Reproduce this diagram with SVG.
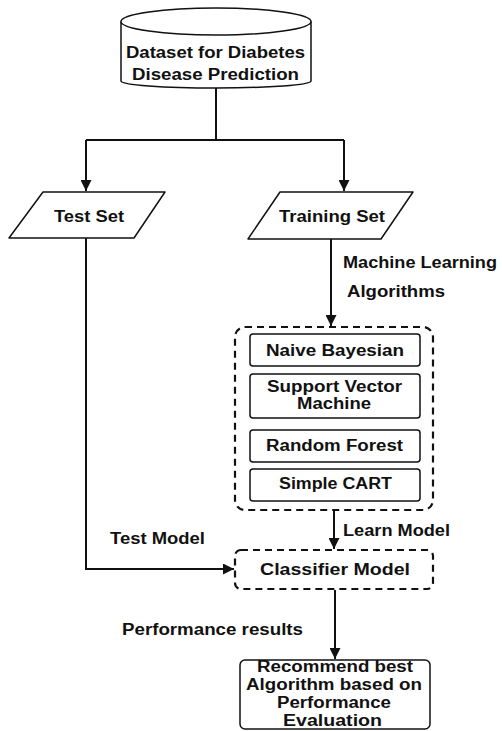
<svg xmlns="http://www.w3.org/2000/svg" width="502" height="731" viewBox="0 0 502 731">
<style>
.t{font-family:"Liberation Sans",Arial,sans-serif;font-weight:bold;font-size:16px;fill:#111}
.s{fill:#fff;stroke:#111;stroke-width:1.5}
.d{fill:#fff;stroke:#111;stroke-width:2.2;stroke-dasharray:7 5}
.c{fill:none;stroke:#111;stroke-width:2}
</style>
<defs>
<marker id="ah" viewBox="0 0 10 10" refX="10" refY="5" markerWidth="5.5" markerHeight="5.5" orient="auto" markerUnits="strokeWidth">
<path d="M0,0 L10,5 L0,10 Z" fill="#111"/>
</marker>
</defs>
<rect width="502" height="731" fill="#fff"/>
<g id="connectors">
<path class="c" d="M216,87 V140 M86,140 H344"/>
<path class="c" d="M86,140 V191" marker-end="url(#ah)"/>
<path class="c" d="M344,140 V191" marker-end="url(#ah)"/>
<path class="c" d="M331,239 V326" marker-end="url(#ah)"/>
<path class="c" d="M86,238 V569 H234" marker-end="url(#ah)"/>
<path class="c" d="M334,511 V549" marker-end="url(#ah)"/>
<path class="c" d="M335,590 V659" marker-end="url(#ah)"/>
</g>
<g id="dataset">
<path class="s" d="M121,21.5 V81 A95,7 0 0 0 311,81 V21.5"/>
<ellipse class="s" cx="216" cy="21.5" rx="95" ry="13.5"/>
<text class="t" x="126" y="58" textLength="179" lengthAdjust="spacingAndGlyphs">Dataset for Diabetes</text>
<text class="t" x="132" y="80" textLength="167" lengthAdjust="spacingAndGlyphs">Disease Prediction</text>
</g>
<g id="testset">
<path class="s" stroke-linejoin="round" d="M43,192 H165 L134,238 H9 Z"/>
<text class="t" x="54" y="222" textLength="70" lengthAdjust="spacingAndGlyphs">Test Set</text>
</g>
<g id="trainingset">
<path class="s" stroke-linejoin="round" d="M280,192 H413 L381,239 H248 Z"/>
<text class="t" x="279" y="222" textLength="106" lengthAdjust="spacingAndGlyphs">Training Set</text>
</g>
<g id="ml-label">
<text class="t" x="343" y="268" textLength="154" lengthAdjust="spacingAndGlyphs">Machine Learning</text>
<text class="t" x="347" y="297" textLength="98" lengthAdjust="spacingAndGlyphs">Algorithms</text>
</g>
<g id="algorithms">
<rect class="d" x="235" y="327" width="198" height="183" rx="10"/>
</g>
<g id="naive">
<rect class="s" x="250" y="334" width="170" height="32" rx="3"/>
<text class="t" x="266" y="356" textLength="138" lengthAdjust="spacingAndGlyphs">Naive Bayesian</text>
</g>
<g id="svm">
<rect class="s" x="250" y="374" width="170" height="44" rx="3"/>
<text class="t" x="267" y="392" textLength="135" lengthAdjust="spacingAndGlyphs">Support Vector</text>
<text class="t" x="297" y="409" textLength="74" lengthAdjust="spacingAndGlyphs">Machine</text>
</g>
<g id="rf">
<rect class="s" x="250" y="430" width="170" height="32" rx="3"/>
<text class="t" x="266" y="451" textLength="137" lengthAdjust="spacingAndGlyphs">Random Forest</text>
</g>
<g id="cart">
<rect class="s" x="250" y="469" width="170" height="32" rx="3"/>
<text class="t" x="279" y="489" textLength="113" lengthAdjust="spacingAndGlyphs">Simple CART</text>
</g>
<g id="labels">
<text class="t" x="343" y="536" textLength="107" lengthAdjust="spacingAndGlyphs">Learn Model</text>
<text class="t" x="110" y="544" textLength="95" lengthAdjust="spacingAndGlyphs">Test Model</text>
<text class="t" x="122" y="635" textLength="181" lengthAdjust="spacingAndGlyphs">Performance results</text>
</g>
<g id="classifier">
<rect class="d" x="235" y="550" width="198" height="39" rx="6"/>
<text class="t" x="260" y="575" textLength="150" lengthAdjust="spacingAndGlyphs">Classifier Model</text>
</g>
<g id="recommend">
<rect class="s" x="240" y="660" width="190" height="69" rx="5"/>
<text class="t" x="257" y="672" textLength="156" lengthAdjust="spacingAndGlyphs">Recommend best</text>
<text class="t" x="246" y="690" textLength="176" lengthAdjust="spacingAndGlyphs">Algorithm based on</text>
<text class="t" x="277" y="708" textLength="114" lengthAdjust="spacingAndGlyphs">Performance</text>
<text class="t" x="283" y="726" textLength="99" lengthAdjust="spacingAndGlyphs">Evaluation</text>
</g>
</svg>
